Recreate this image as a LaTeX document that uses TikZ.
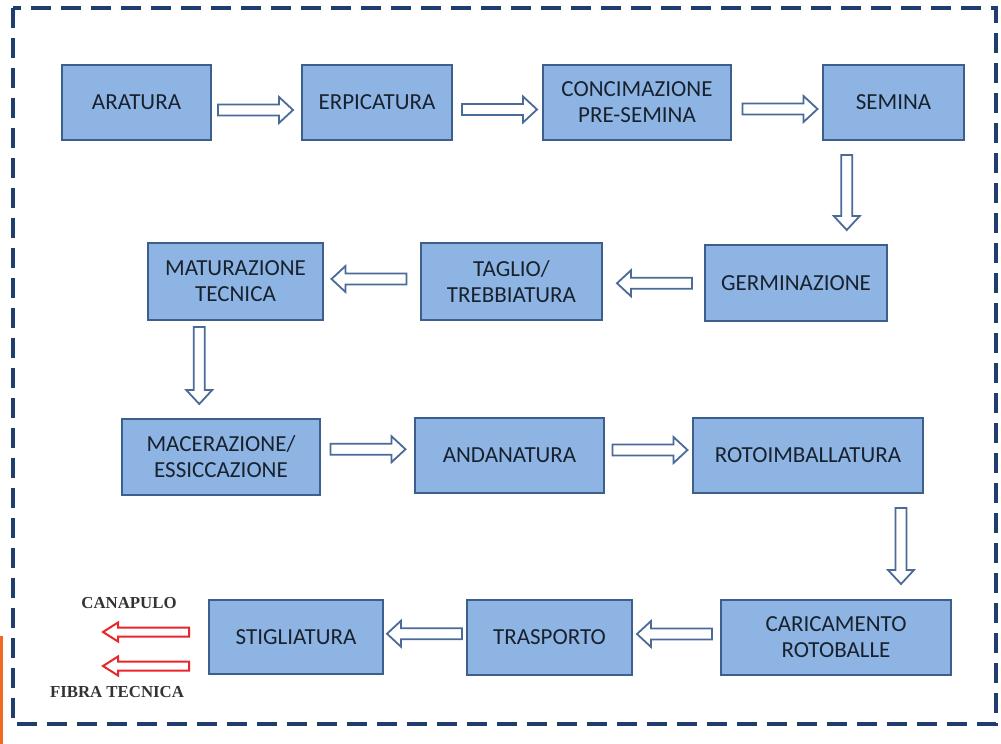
\documentclass[tikz,border=0pt]{standalone}
\usepackage{fontspec}
\setmainfont{Carlito}
\newfontfamily\labelfont{Liberation Serif}
\usetikzlibrary{calc}

\definecolor{boxfill}{HTML}{8EB4E3}
\definecolor{boxline}{HTML}{3D5F8E}
\definecolor{boxtext}{HTML}{18222F}
\definecolor{arrowline}{HTML}{4A6B98}
\definecolor{frameblue}{HTML}{1F3E6E}
\definecolor{outred}{HTML}{E8262B}
\definecolor{edgeorange}{HTML}{F26A21}

% hollow block arrow: #1 style, #2 centre coordinate, #3 direction (deg),
% #4 length, #5 shaft half-width, #6 head half-width, #7 head length
\newcommand\hollowarrow[7]{%
  \begin{scope}[shift={(#2)}, rotate=#3]
    \draw[#1] (-#4/2,-#5) -- ({#4/2-#7},-#5) -- ({#4/2-#7},-#6) -- (#4/2,0)
      -- ({#4/2-#7},#6) -- ({#4/2-#7},#5) -- (-#4/2,#5) -- cycle;
  \end{scope}}

\begin{document}
\begin{tikzpicture}[x=1pt, y=-1pt,
  stage/.style={draw=boxline, line width=2pt, fill=boxfill, text=boxtext,
    font=\fontsize{23}{26}\selectfont, align=center, inner sep=0pt,
    minimum height=75pt},
  flowarrow/.style={draw=arrowline, line width=1.8pt, fill=white, line join=miter},
  outarrow/.style={draw=outred, line width=2pt, fill=white, line join=miter},
  outlabel/.style={font=\labelfont\bfseries\fontsize{16.8}{20}\selectfont, text=black!80, inner sep=0pt}]

\useasboundingbox (0,0) rectangle (1001,744);
\fill[white] (0,0) rectangle (1001,744);

% dashed frame
\draw[frameblue, line width=4.8pt, dash pattern=on 20pt off 10pt]
  (13,8) rectangle (996,724);
% orange edge mark
\fill[edgeorange] (0,636) rectangle (3,744);

% stages
\node[stage, minimum width=149pt] (ara)  at (136.5,102.5) {ARATURA};
\node[stage, minimum width=150pt] (erp)  at (377,102.5)   {ERPICATURA};
\node[stage, minimum width=188pt] (conc) at (637,102.5)   {CONCIMAZIONE\\PRE-SEMINA};
\node[stage, minimum width=141pt] (sem)  at (893.5,102.5) {SEMINA};

\node[stage, minimum width=182pt, minimum height=76pt] (germ) at (796,283) {GERMINAZIONE};
\node[stage, minimum width=181pt, minimum height=77pt] (tagl) at (511.5,281.5) {TAGLIO/\\TREBBIATURA};
\node[stage, minimum width=175pt, minimum height=77pt] (mat)  at (235.5,281.5) {MATURAZIONE\\TECNICA};

\node[stage, minimum width=198pt, minimum height=76pt] (mac)  at (221,457) {MACERAZIONE/\\ESSICCAZIONE};
\node[stage, minimum width=189pt] (anda) at (509.5,455.5) {ANDANATURA};
\node[stage, minimum width=230pt] (roto) at (808,455.5)   {ROTOIMBALLATURA};

\node[stage, minimum width=230pt] (car)  at (836,637.5)   {CARICAMENTO\\ROTOBALLE};
\node[stage, minimum width=165pt] (tras) at (549.5,637.5) {TRASPORTO};
\node[stage, minimum width=174pt, minimum height=74pt] (stig) at (296,637) {STIGLIATURA};

% arrow centres between neighbouring stages
\coordinate (c1)  at ($(ara.east)!.5!(erp.west)+(-1,7.5)$);
\coordinate (c2)  at ($(erp.east)!.5!(conc.west)+(2,7)$);
\coordinate (c3)  at ($(conc.east)!.5!(sem.west)+(3,6.5)$);
\coordinate (c4)  at ($(sem.south)!.5!(germ.north)+(2,0)$);
\coordinate (c5)  at ($(germ.west)!.5!(tagl.east)+(1,1)$);
\coordinate (c6)  at ($(tagl.west)!.5!(mat.east)+(-3,-2.5)$);
\coordinate (c7)  at ($(mat.south)!.5!(mac.north)+(-29,-4)$);
\coordinate (c8)  at ($(mac.east)!.5!(anda.west)+(0.5,-7)$);
\coordinate (c9)  at ($(anda.east)!.5!(roto.west)+(1.5,-5.5)$);
\coordinate (c10) at ($(roto.south)!.5!(car.north)+(79,-0.5)$);
\coordinate (c11) at ($(car.west)!.5!(tras.east)+(-2,-3.5)$);
\coordinate (c12) at ($(tras.west)!.5!(stig.east)+(-0.5,-3.5)$);

\hollowarrow{flowarrow}{c1}{0}{75}{5.5}{13}{14}
\hollowarrow{flowarrow}{c2}{0}{75}{5.5}{13}{14}
\hollowarrow{flowarrow}{c3}{0}{75}{5.5}{13}{14}
\hollowarrow{flowarrow}{c4}{-90}{75}{5.5}{13}{14}
\hollowarrow{flowarrow}{c5}{180}{75}{5.5}{13}{14}
\hollowarrow{flowarrow}{c6}{180}{75}{5.5}{13}{14}
\hollowarrow{flowarrow}{c7}{-90}{77}{5.5}{13}{14}
\hollowarrow{flowarrow}{c8}{0}{75}{5.5}{13}{14}
\hollowarrow{flowarrow}{c9}{0}{75}{5.5}{13}{14}
\hollowarrow{flowarrow}{c10}{-90}{76}{5.5}{13}{14}
\hollowarrow{flowarrow}{c11}{180}{75}{5.5}{13}{14}
\hollowarrow{flowarrow}{c12}{180}{75}{5.5}{13}{14}

% outputs of the scutching stage
\coordinate (o1) at ($(stig.west)+(-62,-5)$);
\coordinate (o2) at ($(stig.west)+(-62,29)$);
\hollowarrow{outarrow}{o1}{180}{86}{4.5}{9.5}{15}
\hollowarrow{outarrow}{o2}{180}{86}{4.5}{9.5}{15}

\node[outlabel] (canapulo) at (129,603) {CANAPULO};
\node[outlabel] (fibra)    at (117,692) {FIBRA TECNICA};
\end{tikzpicture}
\end{document}
